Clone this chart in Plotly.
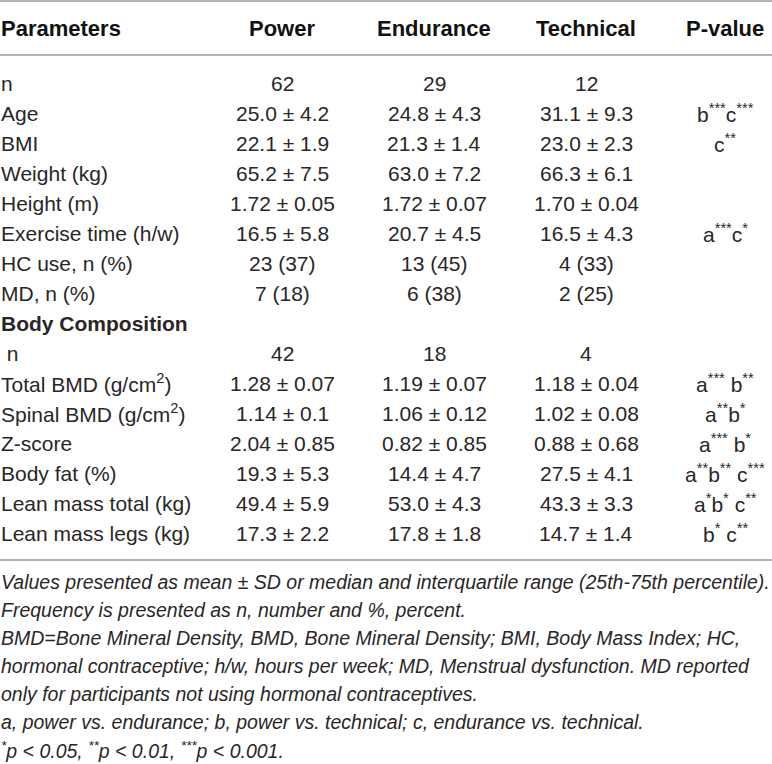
import plotly.graph_objects as go

# table content
headers = ["Parameters", "Power", "Endurance", "Technical", "P-value"]
parameters = [
    "n", "Age", "BMI", "Weight (kg)", "Height (m)", "Exercise time (h/w)",
    "HC use, n (%)", "MD, n (%)", "<b>Body Composition</b>", "\u00a0n",
    "Total BMD (g/cm<sup>2</sup>)", "Spinal BMD (g/cm<sup>2</sup>)", "Z-score",
    "Body fat (%)", "Lean mass total (kg)", "Lean mass legs (kg)",
]
power = [
    "62", "25.0 ± 4.2", "22.1 ± 1.9", "65.2 ± 7.5", "1.72 ± 0.05", "16.5 ± 5.8",
    "23 (37)", "7 (18)", "", "42",
    "1.28 ± 0.07", "1.14 ± 0.1", "2.04 ± 0.85", "19.3 ± 5.3", "49.4 ± 5.9", "17.3 ± 2.2",
]
endurance = [
    "29", "24.8 ± 4.3", "21.3 ± 1.4", "63.0 ± 7.2", "1.72 ± 0.07", "20.7 ± 4.5",
    "13 (45)", "6 (38)", "", "18",
    "1.19 ± 0.07", "1.06 ± 0.12", "0.82 ± 0.85", "14.4 ± 4.7", "53.0 ± 4.3", "17.8 ± 1.8",
]
technical = [
    "12", "31.1 ± 9.3", "23.0 ± 2.3", "66.3 ± 6.1", "1.70 ± 0.04", "16.5 ± 4.3",
    "4 (33)", "2 (25)", "", "4",
    "1.18 ± 0.04", "1.02 ± 0.08", "0.88 ± 0.68", "27.5 ± 4.1", "43.3 ± 3.3", "14.7 ± 1.4",
]
pvalue = [
    "", "b<sup>***</sup>c<sup>***</sup>", "c<sup>**</sup>", "", "", "a<sup>***</sup>c<sup>*</sup>",
    "", "", "", "",
    "a<sup>***</sup> b<sup>**</sup>", "a<sup>**</sup>b<sup>*</sup>", "a<sup>***</sup> b<sup>*</sup>",
    "a<sup>**</sup>b<sup>**</sup> c<sup>***</sup>", "a<sup>*</sup>b<sup>*</sup> c<sup>**</sup>",
    "b<sup>*</sup> c<sup>**</sup>",
]
footnotes = [
    "Values presented as mean ± SD or median and interquartile range (25th-75th percentile).",
    "Frequency is presented as n, number and %, percent.",
    "BMD=Bone Mineral Density, BMD, Bone Mineral Density; BMI, Body Mass Index; HC,",
    "hormonal contraceptive; h/w, hours per week; MD, Menstrual dysfunction. MD reported",
    "only for participants not using hormonal contraceptives.",
    "a, power vs. endurance; b, power vs. technical; c, endurance vs. technical.",
    "<sup>*</sup>p < 0.05, <sup>**</sup>p < 0.01, <sup>***</sup>p < 0.001.",
]

W, H = 772, 764
ROW_TOP, ROW_H = 83, 30
FONT = "Liberation Sans"
INK = "#2a2627"
RULE = "#9b9b9b"


def row_y(px):
    # pixel position -> row units on the y axis
    return (px - ROW_TOP) / ROW_H


col_x = [0, 282, 434, 586, 725]
columns = [parameters, power, endurance, technical, pvalue]

fig = go.Figure()
ann = []
for j, h in enumerate(headers):
    ann.append(dict(x=col_x[j], y=row_y(28), text="<b>%s</b>" % h,
                    xanchor="left" if j == 0 else "center",
                    font=dict(size=22, color="#111111")))
for j, col in enumerate(columns):
    for i, v in enumerate(col):
        if v == "":
            continue
        ann.append(dict(x=col_x[j], y=i, text=v,
                        xanchor="left" if j == 0 else "center",
                        font=dict(size=21, color=INK)))
for k, t in enumerate(footnotes):
    ann.append(dict(x=0, y=row_y(582 + 28 * k), text="<i>%s</i>" % t,
                    xanchor="left", font=dict(size=19.5, color=INK)))
for a in ann:
    a.update(xref="x", yref="y", yanchor="middle", showarrow=False,
             borderpad=0)
    a["font"]["family"] = FONT

for px in [1, 55, 560]:
    fig.add_shape(type="line", xref="x", yref="y", x0=0, x1=W,
                  y0=row_y(px), y1=row_y(px), line=dict(color=RULE, width=1.5))

fig.update_layout(
    width=W, height=H,
    margin=dict(l=0, r=0, t=0, b=0),
    paper_bgcolor="white", plot_bgcolor="white",
    annotations=ann,
    xaxis=dict(range=[0, W], visible=False),
    yaxis=dict(range=[row_y(H), row_y(0)], visible=False),
    showlegend=False,
)
fig.write_html("out.html", config={"displayModeBar": False},
               post_script="document.body.style.margin = '0';")
